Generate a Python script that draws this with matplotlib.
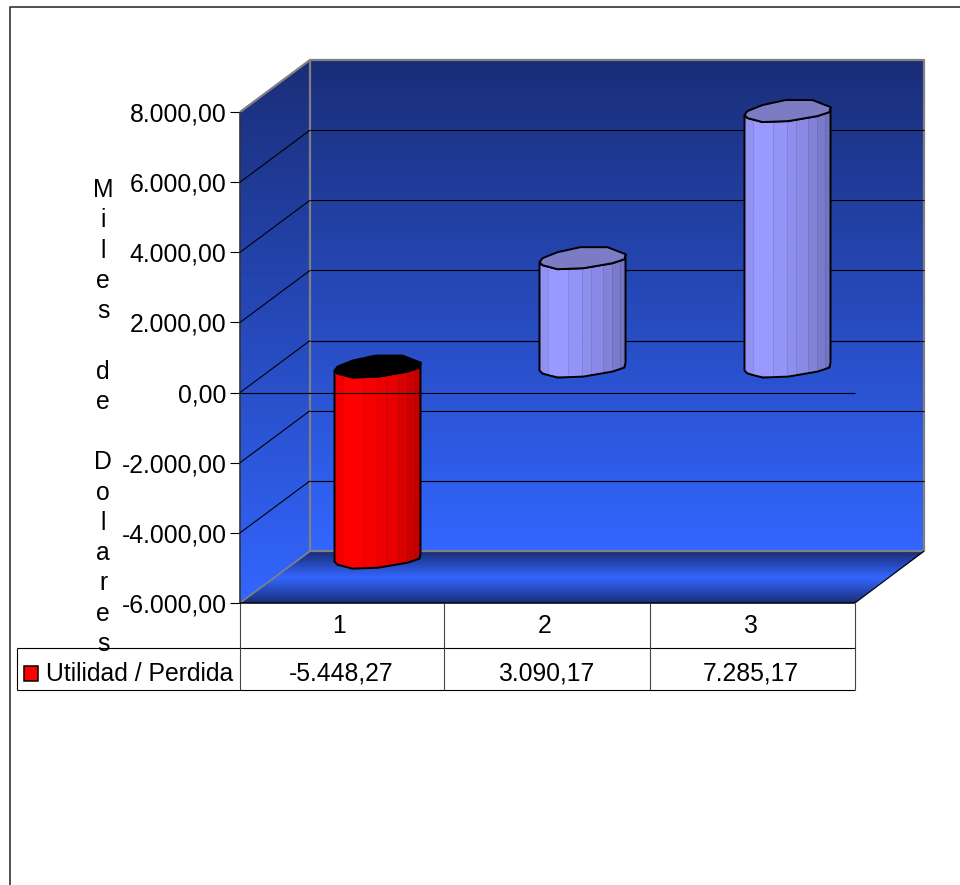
import numpy as np
import matplotlib
matplotlib.use("Agg")
import matplotlib.pyplot as plt
from matplotlib.colors import LinearSegmentedColormap, to_rgb
from matplotlib.patches import Polygon, Rectangle
from matplotlib.transforms import Affine2D

plt.rcParams["font.family"] = ["Liberation Sans", "DejaVu Sans"]
plt.rcParams["lines.solid_capstyle"] = "butt"

categories = ["1", "2", "3"]
values = [-5448.27, 3090.17, 7285.17]
series_name = "Utilidad / Perdida"
y_ticks = [-6000, -4000, -2000, 0, 2000, 4000, 6000, 8000]
y_tick_labels = ["-6.000,00", "-4.000,00", "-2.000,00", "0,00",
                 "2.000,00", "4.000,00", "6.000,00", "8.000,00"]
value_labels = ["-5.448,27", "3.090,17", "7.285,17"]
y_title = "Miles de Dolares"

FS = 17.8
DARK = "#1a2e78"
LIGHT = "#3366ff"
GRAY = "#808080"

# px to data units on the value axes
PX_X = 3 / 615
PX_Y = 14000 / 491
# depth of the 3d box (70 px right, 52 px up)
DEPTH_X = 70 * PX_X
DEPTH_Y = 52 * PX_Y
BACK_R = 3 + DEPTH_X - PX_X

# cylinder section, px offsets from its centre, y down like the screen
cap_px = [(-43, 4), (-40, 0), (-25, -6), (-2, -11), (25, -11), (43, -4),
          (42, 1), (30, 5), (1, 10), (-25, 11), (-40, 7)]
front_px = [(-43, 4), (-40, 7), (-25, 11), (1, 10), (30, 5), (42, 1), (43, -4)]
facet_px = [-43, -34, -14, 0, 9, 21, 30, 38, 43]
facet_shade = [0.95, 1.0, 0.97, 0.93, 0.9, 0.85, 0.8, 0.76, 0.72]


def fmt_color(col, f):
    return tuple(c * f for c in to_rgb(col))


fig = plt.figure(figsize=(9.6, 8.85), dpi=100)

# chrome (walls, floor, table lines) in pixel coords
bg = fig.add_axes([0, 0, 1, 1], zorder=0)
bg.set_xlim(0, 960)
bg.set_ylim(885, 0)
bg.axis("off")

wall_cmap = LinearSegmentedColormap.from_list("wall", [DARK, LIGHT])
floor_cmap = LinearSegmentedColormap.from_list("floor", [DARK, LIGHT, DARK])
grad = np.linspace(0, 1, 256).reshape(-1, 1)

im = bg.imshow(grad, cmap=wall_cmap, extent=(310, 924, 552, 60), aspect="auto", zorder=1)
im.set_clip_path(Rectangle((310, 60), 614, 492, transform=bg.transData))

side = Polygon([(240, 112), (310, 60), (310, 552), (240, 603)], transform=bg.transData)
im = bg.imshow(grad, cmap=wall_cmap, extent=(240, 310, 603, 60), aspect="auto", zorder=1)
im.set_clip_path(side)

floor = Polygon([(310, 552), (924, 552), (855, 603), (240, 603)], transform=bg.transData)
im = bg.imshow(grad, cmap=floor_cmap, extent=(240, 924, 603, 552), aspect="auto", zorder=1)
im.set_clip_path(floor)
bg.set_xlim(0, 960)
bg.set_ylim(885, 0)

# outer frame of the picture
bg.plot([10, 10, 960], [885, 7, 7], color="#222222", lw=1.1, zorder=2)

# table grid
bg.plot([17, 855], [648, 648], color="black", lw=0.8, zorder=2)
bg.plot([17, 855], [690, 690], color="black", lw=0.8, zorder=2)
bg.plot([17, 17], [648, 690], color="black", lw=0.8, zorder=2)
for xx in [240, 444, 650, 855]:
    bg.plot([xx, xx], [603, 690], color="#444444", lw=0.8, zorder=2)
bg.add_patch(Rectangle((24, 666), 14, 15, fc="#ff0000", ec="black", lw=1.1, zorder=3))
bg.text(46, 674, series_name, fontsize=FS, ha="left", va="center", zorder=3)

# value axes = front plane of the box
ax = fig.add_axes([240 / 960, (885 - 603) / 885, 615 / 960, 491 / 885], zorder=1)
ax.patch.set_visible(False)
ax.set_xlim(0, 3)
ax.set_ylim(-6000, 8000)
for sp in ax.spines.values():
    sp.set_visible(False)

ax.set_yticks(y_ticks)
ax.set_yticklabels(y_tick_labels, fontsize=FS)
ax.tick_params(axis="y", length=7.2, width=0.8, pad=2.5)
ax.set_xticks(np.arange(len(categories)) + 0.5)
ax.set_xticklabels(categories, fontsize=FS)
ax.tick_params(axis="x", length=0, pad=8)
for lab in ax.get_xticklabels():
    lab.set_transform(lab.get_transform() + Affine2D().translate(-3, 0))

ax.set_ylabel("\n".join(y_title), fontsize=FS, rotation=0, ha="center", va="center",
              linespacing=1.33)
ax.yaxis.set_label_coords((103 - 240) / 615, (603 - 417) / 491)

# box outline
bottom, top = y_ticks[0], y_ticks[-1]
ax.plot([DEPTH_X, DEPTH_X, BACK_R, BACK_R, DEPTH_X],
        [bottom + DEPTH_Y, top + DEPTH_Y, top + DEPTH_Y, bottom + DEPTH_Y, bottom + DEPTH_Y],
        color=GRAY, lw=1.6, clip_on=False, zorder=3)
ax.plot([0, DEPTH_X], [top, top + DEPTH_Y], color=GRAY, lw=1.6, clip_on=False, zorder=3)
ax.plot([0, DEPTH_X], [bottom, bottom + DEPTH_Y], color=GRAY, lw=1.2, clip_on=False, zorder=3)
ax.plot([3, BACK_R], [bottom, bottom + DEPTH_Y], color="black", lw=0.8, clip_on=False, zorder=3)
ax.plot([0, 0], [bottom, top], color="#333333", lw=1.2, clip_on=False, zorder=3)
ax.plot([0, 3], [bottom, bottom], color="black", lw=1.1, clip_on=False, zorder=3)

# grid on the walls
for v in y_ticks[1:-1]:
    ax.plot([DEPTH_X, BACK_R], [v + DEPTH_Y, v + DEPTH_Y], color="black", lw=0.8,
            clip_on=False, zorder=4)
    ax.plot([0, DEPTH_X], [v, v + DEPTH_Y], color="black", lw=0.8, clip_on=False, zorder=4)

# cylinders sit in the middle of the depth
front_x = [p[0] for p in front_px]
front_y = [p[1] for p in front_px]
facet_y = np.interp(facet_px, front_x, front_y)

for i, v in enumerate(values):
    cx = i + 0.5 + DEPTH_X / 2
    hi = max(v, 0) + DEPTH_Y / 2
    lo = min(v, 0) + DEPTH_Y / 2
    col = "#ff0000" if v < 0 else "#9999ff"
    cap = "black" if v < 0 else "#7c7cc4"

    fx = cx + np.array(facet_px) * PX_X
    fy = -facet_y * PX_Y
    for k in range(len(fx) - 1):
        f = facet_shade[k]
        quad = [(fx[k], hi + fy[k]), (fx[k + 1], hi + fy[k + 1]),
                (fx[k + 1], lo + fy[k + 1]), (fx[k], lo + fy[k])]
        ax.add_patch(Polygon(quad, fc=fmt_color(col, f), ec=fmt_color(col, f * 0.9), lw=0.4,
                             clip_on=False, zorder=5))

    ox = cx + np.array(front_x) * PX_X
    oy = -np.array(front_y) * PX_Y
    outline = list(zip(ox, hi + oy)) + list(zip(ox[::-1], lo + oy[::-1]))
    ax.add_patch(Polygon(outline, fill=False, ec="black", lw=1.4, joinstyle="round",
                         clip_on=False, zorder=6))
    cap_xy = [(cx + px * PX_X, hi - py * PX_Y) for px, py in cap_px]
    ax.add_patch(Polygon(cap_xy, fc=cap, ec="black", lw=1.4, joinstyle="round",
                         clip_on=False, zorder=6))

# zero line is on top of everything
ax.plot([0, 3], [0, 0], color="black", lw=0.8, clip_on=False, zorder=7)

# values row of the table
for i, lab in enumerate(value_labels):
    ax.text(i + 0.5 - 1.5 * PX_X, -(674 - 603) / 491, lab, fontsize=FS, ha="center", va="center",
            transform=ax.get_xaxis_transform(), clip_on=False)

fig.savefig("out.png", dpi=100)
